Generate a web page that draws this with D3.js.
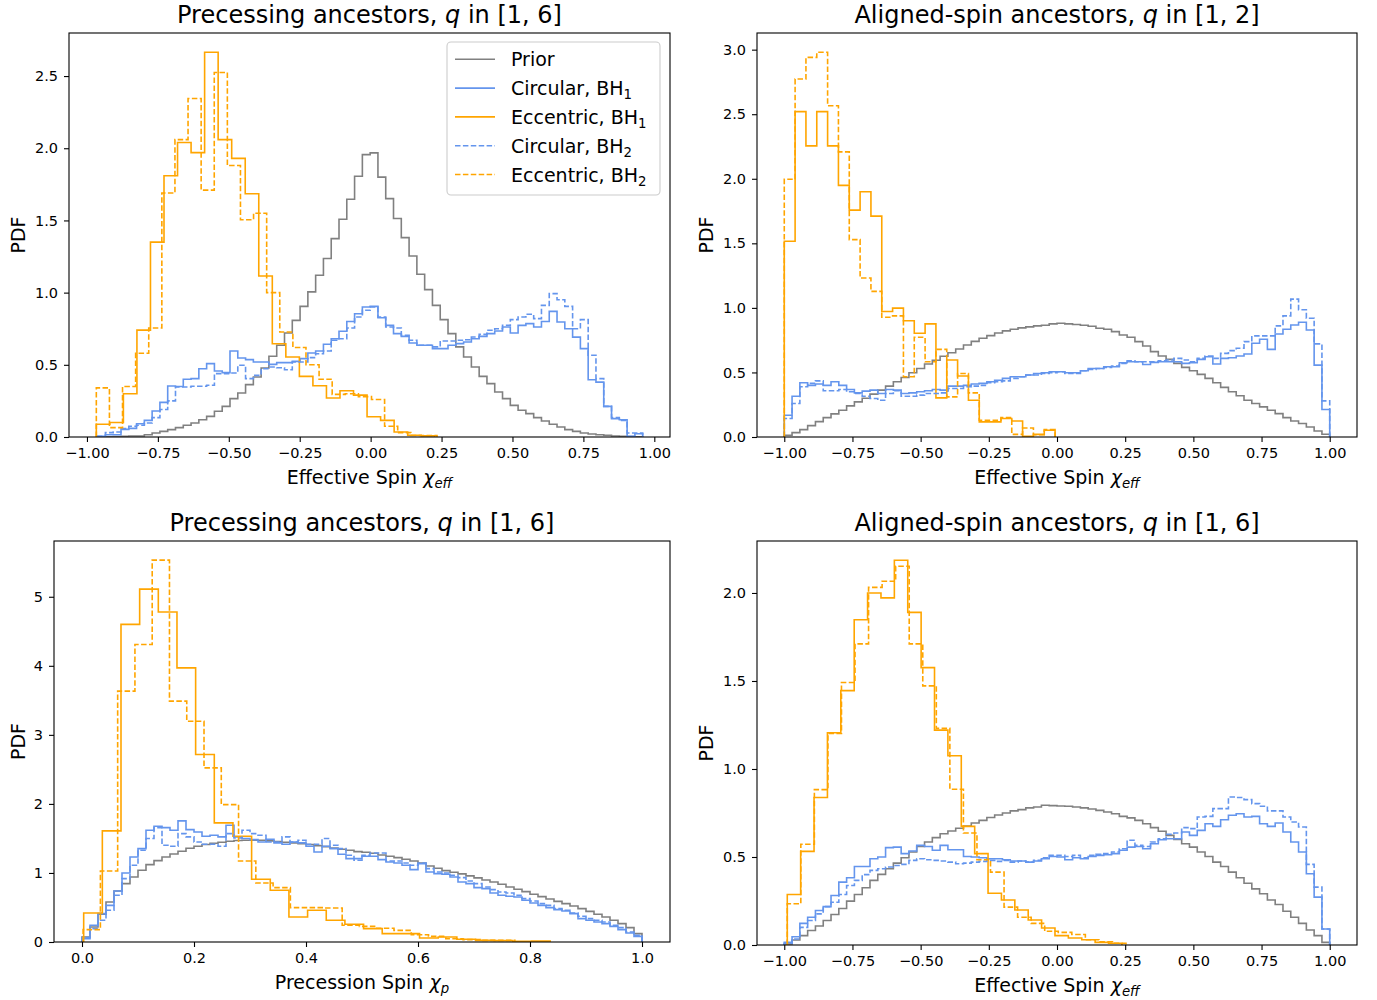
<!DOCTYPE html>
<html>
<head>
<meta charset="utf-8">
<script src="https://cdn.jsdelivr.net/npm/d3@7"></script>
<style>
  body { margin: 0; background: #fff; }
  text { font-family: "DejaVu Sans", sans-serif; fill: #000; }
</style>
</head>
<body>
<div id="chart"></div>
<script>
// ---- data (PDF values per bin) ----

// panel 1: precessing ancestors, q in [1, 6], effective spin
var p1Prior = [0.001,0.002,0.003,0.005,0.007,0.007,0.016,0.028,0.039,0.051,
  0.065,0.081,0.097,0.12,0.143,0.178,0.212,0.266,0.305,0.363,
  0.416,0.478,0.559,0.635,0.72,0.808,0.905,1.005,1.12,1.236,
  1.374,1.508,1.647,1.806,1.956,1.968,1.80,1.651,1.513,1.381,
  1.254,1.127,1.021,0.912,0.813,0.716,0.624,0.554,0.485,0.42,
  0.37,0.312,0.266,0.219,0.185,0.162,0.134,0.111,0.088,0.069,
  0.051,0.039,0.028,0.021,0.016,0.012,0.007,0.005,0.003,0.002];
var p1Circ1 = [0.005,0.016,0.016,0.053,0.06,0.092,0.115,0.18,0.24,0.353,
  0.35,0.40,0.404,0.473,0.508,0.457,0.446,0.596,0.547,0.536,
  0.52,0.52,0.503,0.515,0.515,0.524,0.543,0.582,0.596,0.642,
  0.681,0.732,0.80,0.854,0.90,0.905,0.826,0.773,0.716,0.697,
  0.651,0.635,0.635,0.612,0.612,0.635,0.647,0.658,0.681,0.697,
  0.716,0.734,0.762,0.72,0.773,0.785,0.762,0.80,0.87,0.797,
  0.75,0.692,0.612,0.397,0.38,0.212,0.127,0.12,0.005,0.023];
var p1Circ2 = [0.005,0.03,0.035,0.058,0.074,0.081,0.097,0.134,0.19,0.25,
  0.346,0.346,0.351,0.351,0.358,0.439,0.439,0.443,0.497,0.404,
  0.427,0.473,0.485,0.48,0.466,0.52,0.52,0.55,0.577,0.596,
  0.67,0.681,0.755,0.831,0.878,0.90,0.831,0.762,0.755,0.704,
  0.67,0.635,0.635,0.624,0.665,0.665,0.67,0.674,0.693,0.711,
  0.739,0.75,0.774,0.813,0.831,0.85,0.82,0.912,0.993,0.951,
  0.905,0.75,0.813,0.566,0.404,0.212,0.134,0.115,0.028,0.028];
var p1Ecc1 = [0.088,0.10,0.30,0.74,1.35,1.81,2.04,1.97,2.665,2.06,1.93,1.685,1.115,
  0.646,0.554,0.42,0.355,0.27,0.32,0.29,0.14,0.115,0.035,0.012,0.008];
var p1Ecc2 = [0.34,0.065,0.35,0.58,0.755,1.69,2.06,2.345,1.71,2.525,1.88,1.505,1.55,
  1.0,0.727,0.62,0.50,0.40,0.295,0.30,0.28,0.26,0.074,0.03,0.01,0.01];
var p1WideRange = [-0.9624, 0.959];
var p1Ecc1Range = [-0.967, 0.226];
var p1Ecc2Range = [-0.967, 0.234];

// panel 2: aligned-spin ancestors, q in [1, 2], effective spin
var p2Prior = [0.013,0.034,0.057,0.088,0.119,0.150,0.179,0.207,0.241,0.272,
  0.30,0.332,0.363,0.394,0.428,0.461,0.498,0.531,0.565,0.594,
  0.625,0.653,0.682,0.713,0.741,0.765,0.785,0.806,0.822,0.835,
  0.845,0.853,0.861,0.866,0.876,0.881,0.876,0.871,0.866,0.858,
  0.842,0.835,0.816,0.79,0.772,0.739,0.705,0.661,0.627,0.601,
  0.57,0.539,0.513,0.485,0.454,0.42,0.384,0.35,0.319,0.285,
  0.259,0.233,0.207,0.181,0.15,0.124,0.104,0.078,0.047,0.021];
var p2Circ1 = [0.168,0.316,0.42,0.40,0.41,0.40,0.428,0.40,0.368,0.342,
  0.355,0.363,0.337,0.368,0.363,0.337,0.342,0.35,0.358,0.368,
  0.363,0.394,0.394,0.40,0.41,0.415,0.428,0.44,0.454,0.467,
  0.467,0.48,0.492,0.498,0.505,0.505,0.498,0.498,0.513,0.531,
  0.531,0.544,0.544,0.575,0.583,0.583,0.562,0.578,0.583,0.583,
  0.583,0.57,0.575,0.601,0.622,0.565,0.609,0.614,0.627,0.643,
  0.726,0.757,0.679,0.798,0.835,0.868,0.889,0.829,0.557,0.213];
var p2Circ2 = [0.143,0.259,0.389,0.415,0.435,0.358,0.358,0.368,0.35,0.337,
  0.316,0.298,0.285,0.337,0.358,0.316,0.316,0.324,0.337,0.337,
  0.342,0.376,0.376,0.389,0.394,0.40,0.42,0.428,0.435,0.454,
  0.467,0.48,0.48,0.492,0.498,0.505,0.492,0.492,0.513,0.523,
  0.531,0.539,0.55,0.57,0.591,0.583,0.583,0.583,0.591,0.596,
  0.609,0.596,0.583,0.609,0.627,0.609,0.648,0.669,0.687,0.739,
  0.783,0.783,0.783,0.861,0.938,1.068,0.985,0.92,0.721,0.28];
var p2Ecc1 = [1.516,2.52,2.255,2.52,2.255,1.949,1.757,1.90,1.711,0.972,0.998,0.90,0.804,
  0.876,0.303,0.596,0.472,0.285,0.117,0.117,0.143,0.124,0.005,0.02,0.052];
var p2Ecc2 = [1.996,2.773,2.94,2.98,2.566,2.208,1.529,1.231,1.128,0.928,0.938,0.467,0.772,
  0.583,0.679,0.311,0.492,0.342,0.13,0.13,0.15,0.02,0.07,0.018,0.057];
var p2WideRange = [-1, 1];
var p2EccRange = [-1, -0.007];

// panel 3: precessing ancestors, q in [1, 6], precession spin
var p3Prior = [0.072,0.217,0.401,0.58,0.739,0.845,0.942,1.039,1.121,1.179,
  1.232,1.275,1.314,1.357,1.386,1.411,1.43,1.444,1.459,1.469,
  1.473,1.473,1.473,1.464,1.454,1.444,1.435,1.425,1.411,1.396,
  1.382,1.362,1.343,1.329,1.309,1.30,1.285,1.261,1.242,1.222,
  1.198,1.174,1.145,1.101,1.068,1.034,1.01,0.986,0.957,0.928,
  0.899,0.87,0.836,0.797,0.763,0.729,0.691,0.657,0.623,0.589,
  0.556,0.522,0.483,0.444,0.401,0.362,0.314,0.266,0.208,0.121];
var p3Circ1 = [0.048,0.242,0.411,0.531,0.739,1.0,1.232,1.353,1.618,1.676,
  1.657,1.618,1.754,1.628,1.594,1.531,1.546,1.522,1.691,1.522,
  1.498,1.483,1.449,1.488,1.435,1.415,1.449,1.435,1.386,1.304,
  1.386,1.353,1.271,1.208,1.208,1.242,1.242,1.193,1.159,1.145,
  1.111,1.048,1.135,1.014,0.99,0.981,0.942,0.87,0.845,0.787,
  0.773,0.71,0.676,0.662,0.652,0.604,0.565,0.531,0.498,0.469,
  0.449,0.411,0.338,0.314,0.29,0.266,0.227,0.179,0.13,0.082];
var p3Circ2 = [0.063,0.193,0.314,0.459,0.676,0.918,1.111,1.329,1.498,1.657,
  1.401,1.386,1.57,1.522,1.449,1.415,1.415,1.386,1.57,1.507,
  1.618,1.57,1.546,1.449,1.449,1.522,1.449,1.473,1.415,1.415,
  1.498,1.401,1.353,1.256,1.184,1.256,1.29,1.29,1.174,1.174,
  1.145,1.111,1.145,1.063,1.014,1.0,0.966,0.932,0.884,0.845,
  0.797,0.758,0.725,0.71,0.676,0.628,0.594,0.556,0.531,0.483,
  0.459,0.42,0.372,0.338,0.314,0.29,0.242,0.208,0.145,0.097];
var p3Ecc1 = [0.42,1.609,4.60,5.11,4.78,3.97,2.715,1.725,1.531,0.908,0.749,0.362,0.459,
  0.314,0.256,0.193,0.121,0.121,0.058,0.072,0.039,0.024,0.02,0.01,0.012];
var p3Ecc2 = [0.179,1.029,3.633,4.309,5.531,3.488,3.198,2.522,1.99,1.174,0.855,0.787,0.498,
  0.498,0.493,0.242,0.227,0.2,0.169,0.106,0.082,0.048,0.034,0.024,0.024];
var p3WideRange = [0, 1];
var p3Ecc1Range = [0.003, 0.836];
var p3Ecc2Range = [0.002, 0.773];

// panel 4: aligned-spin ancestors, q in [1, 6], effective spin
var p4Prior = [0.006,0.028,0.053,0.082,0.108,0.139,0.173,0.207,0.249,0.287,
  0.325,0.367,0.401,0.433,0.465,0.496,0.528,0.56,0.585,0.61,
  0.632,0.648,0.663,0.676,0.693,0.708,0.724,0.739,0.75,0.762,
  0.769,0.779,0.784,0.794,0.792,0.79,0.788,0.784,0.779,0.773,
  0.765,0.756,0.746,0.731,0.722,0.708,0.689,0.667,0.646,0.623,
  0.60,0.575,0.556,0.528,0.503,0.471,0.446,0.414,0.382,0.351,
  0.319,0.291,0.256,0.23,0.192,0.158,0.123,0.085,0.053,0.015];
var p4Circ1 = [0.015,0.047,0.123,0.158,0.196,0.218,0.281,0.357,0.382,0.446,
  0.446,0.49,0.50,0.553,0.556,0.519,0.534,0.566,0.56,0.538,
  0.566,0.541,0.541,0.503,0.50,0.496,0.49,0.49,0.484,0.477,
  0.477,0.471,0.477,0.49,0.503,0.50,0.484,0.496,0.49,0.503,
  0.509,0.513,0.519,0.538,0.556,0.56,0.547,0.575,0.598,0.604,
  0.604,0.642,0.623,0.651,0.689,0.674,0.712,0.737,0.746,0.727,
  0.731,0.689,0.674,0.693,0.642,0.585,0.528,0.405,0.272,0.091];
var p4Circ2 = [0.01,0.034,0.10,0.139,0.177,0.218,0.243,0.287,0.338,0.367,
  0.40,0.424,0.433,0.443,0.452,0.458,0.481,0.49,0.484,0.481,
  0.477,0.471,0.462,0.465,0.471,0.475,0.481,0.475,0.481,0.471,
  0.477,0.471,0.481,0.496,0.509,0.509,0.503,0.509,0.496,0.509,
  0.515,0.519,0.528,0.547,0.595,0.566,0.56,0.585,0.604,0.629,
  0.636,0.667,0.661,0.727,0.731,0.775,0.775,0.841,0.838,0.826,
  0.803,0.788,0.762,0.762,0.727,0.699,0.67,0.458,0.329,0.091];
var p4Ecc1 = [0.287,0.532,0.838,1.206,1.445,1.848,2.0,1.972,2.186,1.89,1.576,1.221,1.075,
  0.674,0.519,0.294,0.256,0.199,0.142,0.097,0.053,0.04,0.03,0.015,0.01];
var p4Ecc2 = [0.234,0.572,0.883,1.202,1.491,1.711,2.032,2.067,2.152,1.711,1.472,1.231,0.885,
  0.636,0.484,0.414,0.215,0.158,0.123,0.078,0.072,0.06,0.03,0.018,0.01];
var p4WideRange = [-1, 1];
var p4Ecc1Range = [-0.989, 0.238];
var p4Ecc2Range = [-0.989, 0.253];

// ticks
var effTicks = [-1, -0.75, -0.5, -0.25, 0, 0.25, 0.5, 0.75, 1];
var chipTicks = [0, 0.2, 0.4, 0.6, 0.8, 1.0];
var p1YTicks = [0, 0.5, 1.0, 1.5, 2.0, 2.5];
var p2YTicks = [0, 0.5, 1.0, 1.5, 2.0, 2.5, 3.0];
var p3YTicks = [0, 1, 2, 3, 4, 5];
var p4YTicks = [0, 0.5, 1.0, 1.5, 2.0];

var legendLabels = [['Prior'], ['Circular, BH', '1'], ['Eccentric, BH', '1'],
  ['Circular, BH', '2'], ['Eccentric, BH', '2']];

// ---- styles ----
var GRAY = '#808080', BLUE = '#6495ed', ORANGE = '#ffa500';
var DASH = '5.5,2.4';
var LW = 1.6;

var svg = d3.select('#chart').append('svg')
    .attr('width', 1377)
    .attr('height', 1000);

function mk(values, range, color, dash) {
    return { values: values, range: range, color: color, dash: dash };
}

var panels = [
    { box: { left: 69, right: 670, top: 33, bottom: 437 },
      title: ['Precessing ancestors, ', 'q', ' in [1, 6]'],
      xlabel: ['Effective Spin ', 'χ', 'eff'],
      xticks: effTicks, xfmt: '.2f', yticks: p1YTicks, yfmt: '.1f', ylabelX: 25,
      series: [mk(p1Prior, p1WideRange, GRAY, null), mk(p1Circ1, p1WideRange, BLUE, null),
               mk(p1Ecc1, p1Ecc1Range, ORANGE, null), mk(p1Circ2, p1WideRange, BLUE, DASH),
               mk(p1Ecc2, p1Ecc2Range, ORANGE, DASH)],
      legend: true },
    { box: { left: 757, right: 1357, top: 33, bottom: 437 },
      title: ['Aligned-spin ancestors, ', 'q', ' in [1, 2]'],
      xlabel: ['Effective Spin ', 'χ', 'eff'],
      xticks: effTicks, xfmt: '.2f', yticks: p2YTicks, yfmt: '.1f', ylabelX: 713,
      series: [mk(p2Prior, p2WideRange, GRAY, null), mk(p2Circ1, p2WideRange, BLUE, null),
               mk(p2Ecc1, p2EccRange, ORANGE, null), mk(p2Circ2, p2WideRange, BLUE, DASH),
               mk(p2Ecc2, p2EccRange, ORANGE, DASH)] },
    { box: { left: 54, right: 670, top: 541, bottom: 942 },
      title: ['Precessing ancestors, ', 'q', ' in [1, 6]'],
      xlabel: ['Precession Spin ', 'χ', 'p'],
      xticks: chipTicks, xfmt: '.1f', yticks: p3YTicks, yfmt: 'd', ylabelX: 25,
      series: [mk(p3Prior, p3WideRange, GRAY, null), mk(p3Circ1, p3WideRange, BLUE, null),
               mk(p3Ecc1, p3Ecc1Range, ORANGE, null), mk(p3Circ2, p3WideRange, BLUE, DASH),
               mk(p3Ecc2, p3Ecc2Range, ORANGE, DASH)] },
    { box: { left: 757, right: 1357, top: 541, bottom: 945 },
      title: ['Aligned-spin ancestors, ', 'q', ' in [1, 6]'],
      xlabel: ['Effective Spin ', 'χ', 'eff'],
      xticks: effTicks, xfmt: '.2f', yticks: p4YTicks, yfmt: '.1f', ylabelX: 713,
      series: [mk(p4Prior, p4WideRange, GRAY, null), mk(p4Circ1, p4WideRange, BLUE, null),
               mk(p4Ecc1, p4Ecc1Range, ORANGE, null), mk(p4Circ2, p4WideRange, BLUE, DASH),
               mk(p4Ecc2, p4Ecc2Range, ORANGE, DASH)] }
];

function minus(s) { return s.replace('-', '\u2212'); }

// outline of a step histogram, like matplotlib histtype='step'
function stepPoints(s) {
    var n = s.values.length, w = (s.range[1] - s.range[0]) / n;
    var pts = [[s.range[0], 0]];
    s.values.forEach(function (v, i) {
        pts.push([s.range[0] + i * w, v]);
        pts.push([s.range[0] + (i + 1) * w, v]);
    });
    pts.push([s.range[1], 0]);
    return pts;
}

panels.forEach(function (p, pi) {
    var b = p.box;
    var lo = d3.min(p.series, function (s) { return s.range[0]; });
    var hi = d3.max(p.series, function (s) { return s.range[1]; });
    var pad = (hi - lo) * 0.05;
    var x = d3.scaleLinear().domain([lo - pad, hi + pad]).range([b.left, b.right]);
    var ymax = d3.max(p.series, function (s) { return d3.max(s.values); });
    var y = d3.scaleLinear().domain([0, ymax * 1.05]).range([b.bottom, b.top]);

    var g = svg.append('g');

    svg.append('clipPath').attr('id', 'clip' + pi)
        .append('rect')
        .attr('x', b.left).attr('y', b.top)
        .attr('width', b.right - b.left).attr('height', b.bottom - b.top);

    var line = d3.line().x(function (d) { return x(d[0]); }).y(function (d) { return y(d[1]); });

    g.append('g').attr('clip-path', 'url(#clip' + pi + ')')
        .selectAll('path')
        .data(p.series)
        .enter()
        .append('path')
        .attr('d', function (s) { return line(stepPoints(s)); })
        .attr('fill', 'none')
        .attr('stroke', function (s) { return s.color; })
        .attr('stroke-width', LW)
        .attr('stroke-linejoin', 'miter')
        .attr('stroke-dasharray', function (s) { return s.dash; });

    // axes
    var xAxis = d3.axisBottom(x).tickValues(p.xticks).tickSize(5).tickPadding(6)
        .tickFormat(function (d) { return minus(d3.format(p.xfmt)(d)); });
    var yAxis = d3.axisLeft(y).tickValues(p.yticks).tickSize(5).tickPadding(6)
        .tickFormat(function (d) { return minus(d3.format(p.yfmt)(d)); });

    var gx = g.append('g').attr('transform', 'translate(0,' + b.bottom + ')').call(xAxis);
    var gy = g.append('g').attr('transform', 'translate(' + b.left + ',0)').call(yAxis);
    [gx, gy].forEach(function (a) {
        a.select('.domain').remove();
        a.selectAll('line').attr('stroke', '#000').attr('stroke-width', 1.1);
        a.selectAll('text').attr('font-size', 14.5).attr('font-family', '"DejaVu Sans", sans-serif')
            .attr('fill', '#000');
    });

    g.append('rect')
        .attr('x', b.left).attr('y', b.top)
        .attr('width', b.right - b.left).attr('height', b.bottom - b.top)
        .attr('fill', 'none').attr('stroke', '#000').attr('stroke-width', 1.1);

    var cx = (b.left + b.right) / 2;

    // title
    var t = g.append('text').attr('x', cx).attr('y', b.top - 10)
        .attr('text-anchor', 'middle').attr('font-size', 24);
    t.append('tspan').text(p.title[0]);
    t.append('tspan').attr('font-style', 'italic').text(p.title[1]);
    t.append('tspan').text(p.title[2]);

    // x label
    var xl = g.append('text').attr('x', cx).attr('y', b.bottom + 47)
        .attr('text-anchor', 'middle').attr('font-size', 19);
    xl.append('tspan').text(p.xlabel[0]);
    xl.append('tspan').attr('font-style', 'italic').text(p.xlabel[1]);
    xl.append('tspan').attr('font-style', 'italic').attr('font-size', 13.3)
        .attr('dy', '0.3em').text(p.xlabel[2]);

    // y label
    g.append('text')
        .attr('transform', 'translate(' + p.ylabelX + ',' + (b.top + b.bottom) / 2 + ') rotate(-90)')
        .attr('text-anchor', 'middle').attr('font-size', 19)
        .text('PDF');

    if (p.legend) {
        var lg = g.append('g');
        lg.append('rect')
            .attr('x', 447).attr('y', 42).attr('width', 213).attr('height', 153)
            .attr('rx', 4).attr('ry', 4)
            .attr('fill', '#fff').attr('fill-opacity', 0.8)
            .attr('stroke', '#cccccc').attr('stroke-width', 1.1);
        var rows = lg.selectAll('.item')
            .data(p.series)
            .enter()
            .append('g')
            .attr('class', 'item')
            .attr('transform', function (d, i) { return 'translate(0,' + (59.3 + i * 28.8) + ')'; });
        rows.append('line')
            .attr('x1', 455).attr('x2', 495).attr('y1', 0).attr('y2', 0)
            .attr('stroke', function (s) { return s.color; })
            .attr('stroke-width', LW)
            .attr('stroke-dasharray', function (s) { return s.dash; });
        var lt = rows.append('text').attr('x', 511).attr('y', 7).attr('font-size', 19);
        lt.append('tspan').text(function (d, i) { return legendLabels[i][0]; });
        lt.append('tspan').attr('font-size', 13.3).attr('dy', '0.3em')
            .text(function (d, i) { return legendLabels[i][1] || ''; });
    }
});
</script>
</body>
</html>
